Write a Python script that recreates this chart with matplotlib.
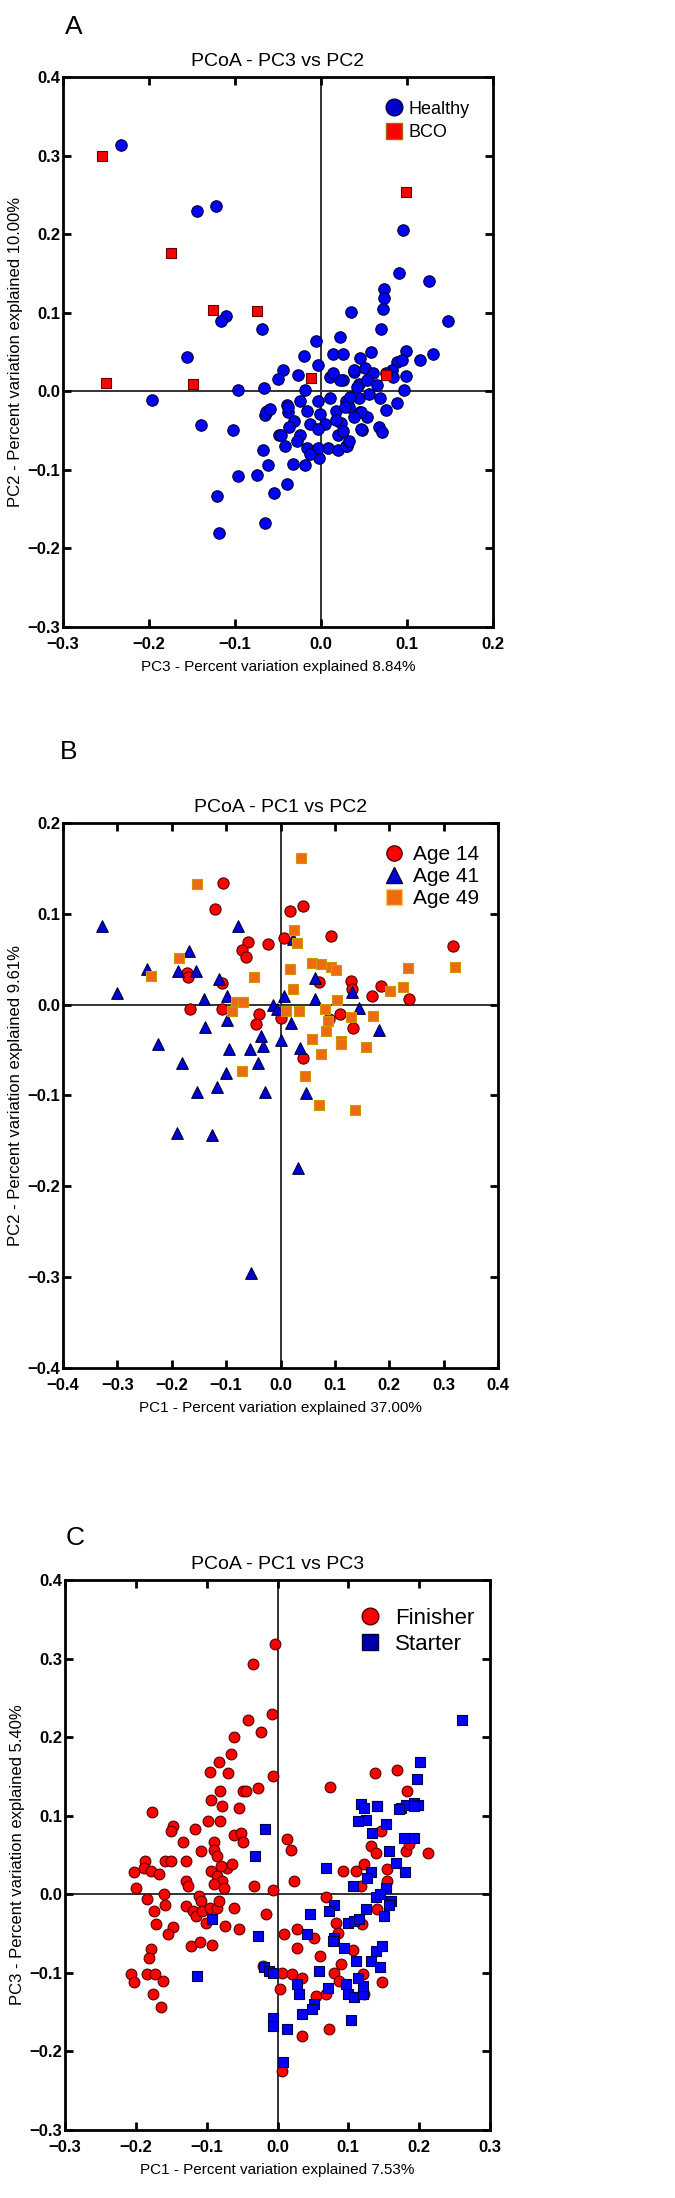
import numpy as np
import matplotlib.pyplot as plt
from matplotlib.lines import Line2D

plt.rcParams['font.family'] = ['Liberation Sans', 'DejaVu Sans']

# ---- panel A : PC3 vs PC2 ----
a_healthy_x = [-0.233, -0.144, -0.122, 0.095, 0.091, 0.125, 0.073, 0.073, 0.072, 0.035, 0.148, -0.111, -0.116, -0.069, 0.070,
               -0.006, 0.022, -0.156, -0.020, 0.014, 0.025, 0.058, 0.099, 0.115, 0.130, 0.045, 0.088, 0.094, -0.044, -0.050,
               -0.027, -0.003, 0.099, 0.097, -0.096, -0.066, -0.196, -0.139, -0.102, -0.063, -0.065, -0.040, -0.038, 0.088,
               0.076, 0.045, 0.054, 0.048, 0.068, 0.071, -0.049, -0.042, -0.068, 0.008, 0.020, 0.030, -0.002, -0.032, -0.019,
               -0.062, -0.074, -0.096, -0.040, -0.055, -0.121, -0.065, -0.119,
               0.010, 0.026, 0.038, 0.044, -0.019, -0.025, -0.004, 0.011, 0.029, 0.044, -0.038, -0.016, -0.001, 0.017, 0.032,
               0.046, -0.031, -0.013, 0.005, 0.023, -0.047, -0.037, -0.025, -0.004, 0.020, 0.047, -0.028, -0.016, -0.004,
               0.029, -0.013, -0.064, -0.059,
               0.038, 0.051, 0.061, 0.053, 0.065, 0.042, 0.056, 0.034, 0.069, 0.082, 0.084, 0.076, 0.022, 0.014, 0.028,
               0.018, 0.038, 0.026, 0.032]
a_healthy_y = [0.313, 0.229, 0.236, 0.205, 0.150, 0.140, 0.130, 0.119, 0.105, 0.101, 0.089, 0.096, 0.089, 0.079, 0.079,
               0.064, 0.069, 0.044, 0.045, 0.047, 0.047, 0.050, 0.051, 0.040, 0.047, 0.042, 0.037, 0.040, 0.027, 0.015,
               0.021, 0.033, 0.020, 0.002, 0.001, 0.004, -0.011, -0.043, -0.049, -0.025, -0.030, -0.018, -0.026, -0.015,
               -0.024, -0.026, -0.033, -0.049, -0.046, -0.052, -0.055, -0.069, -0.075, -0.072, -0.075, -0.070, -0.085,
               -0.092, -0.094, -0.094, -0.106, -0.108, -0.118, -0.129, -0.133, -0.168, -0.180,
               0.018, 0.014, 0.024, 0.009, 0.001, -0.012, -0.012, -0.008, -0.012, -0.008, -0.020, -0.025, -0.029, -0.025,
               -0.020, -0.027, -0.038, -0.042, -0.042, -0.040, -0.055, -0.046, -0.055, -0.048, -0.055, -0.048, -0.063,
               -0.072, -0.072, -0.069, -0.080, -0.027, -0.023,
               0.027, 0.029, 0.023, 0.014, 0.008, 0.006, -0.003, -0.007, -0.009, 0.027, 0.018, 0.023, 0.014, 0.023, -0.020,
               -0.037, -0.033, -0.050, -0.063]
a_bco_x = [-0.255, -0.175, -0.126, -0.074, 0.099, -0.250, -0.149, -0.012, 0.075]
a_bco_y = [0.300, 0.176, 0.104, 0.102, 0.254, 0.010, 0.009, 0.017, 0.021]

# ---- panel B : PC1 vs PC2 ----
b_age14_x = [-0.106, -0.121, 0.017, 0.042, 0.092, -0.060, -0.023, 0.007, -0.071, -0.063, 0.318, -0.172, -0.171, -0.107,
             0.071, 0.130, 0.132, 0.185, 0.169, 0.237, -0.167, -0.107, -0.039, -0.045, 0.000, 0.090, 0.109, 0.134, 0.042]
b_age14_y = [0.134, 0.105, 0.103, 0.109, 0.076, 0.069, 0.067, 0.073, 0.060, 0.052, 0.065, 0.035, 0.031, 0.024,
             0.025, 0.026, 0.017, 0.021, 0.009, 0.006, -0.005, -0.005, -0.010, -0.021, -0.015, -0.016, -0.010, -0.026, -0.059]
b_age41_x = [-0.329, -0.079, 0.023, -0.169, -0.245, -0.189, -0.156, -0.113, 0.064, -0.301, 0.132, -0.140, -0.098, 0.006,
             0.064, -0.013, -0.007, 0.144, -0.098, -0.138, 0.020, 0.182, -0.226, -0.181, -0.094, -0.057, -0.033, -0.042,
             0.000, 0.035, -0.100, -0.153, -0.117, -0.029, 0.047, -0.191, -0.126, 0.032, -0.054, -0.036]
b_age41_y = [0.087, 0.087, 0.072, 0.059, 0.039, 0.037, 0.037, 0.028, 0.029, 0.013, 0.014, 0.006, 0.010, 0.010,
             0.006, 0.000, -0.005, -0.004, -0.017, -0.025, -0.020, -0.028, -0.043, -0.064, -0.049, -0.049, -0.046, -0.064,
             -0.039, -0.048, -0.075, -0.096, -0.091, -0.096, -0.097, -0.141, -0.143, -0.180, -0.295, -0.034]
b_age49_x = [0.037, -0.154, 0.025, 0.031, -0.186, -0.238, -0.048, 0.018, 0.058, 0.075, 0.093, 0.102, 0.234, 0.320,
             0.023, 0.201, 0.226, -0.082, -0.069, -0.089, 0.010, 0.034, 0.104, 0.081, 0.087, 0.130, 0.171, 0.083, 0.058,
             0.112, 0.112, 0.158, 0.074, -0.071, 0.045, 0.071, 0.137]
b_age49_y = [0.161, 0.133, 0.082, 0.068, 0.051, 0.032, 0.030, 0.039, 0.046, 0.045, 0.042, 0.038, 0.040, 0.042,
             0.017, 0.015, 0.019, 0.003, 0.003, -0.007, -0.007, -0.007, 0.005, -0.005, -0.018, -0.014, -0.012, -0.029,
             -0.038, -0.040, -0.043, -0.047, -0.054, -0.073, -0.078, -0.111, -0.116]

# ---- panel C : PC1 vs PC3 ----
c_fin_x = [-0.004, -0.034, -0.008, -0.041, -0.024, -0.062, -0.066, -0.082, -0.096, -0.070, -0.007, 0.074, 0.137, 0.169,
           0.183, -0.027, -0.049, -0.045, -0.081, -0.094, -0.078, -0.054, -0.177,
           -0.148, -0.150, -0.116, -0.098, -0.081, -0.061, -0.052, -0.049, -0.134, -0.108, -0.089, -0.089, -0.085, -0.129,
           -0.159, -0.151, -0.187, -0.188, -0.179, -0.167, -0.202, -0.200, -0.094, -0.085, -0.078, -0.089, -0.071, -0.064,
           -0.080, -0.075, -0.129, -0.127, -0.033, -0.007, 0.023, 0.013, 0.019, -0.184, -0.160, -0.159, -0.174, -0.172,
           -0.147, -0.155, -0.111, -0.108, -0.129, -0.120, -0.115, -0.106, -0.096, -0.085, -0.082, -0.101, -0.074, -0.062,
           -0.054, -0.016, -0.122, -0.109, -0.093, -0.179, -0.181, -0.207, -0.203, -0.184, -0.173, -0.161, -0.176, -0.165,
           -0.021, 0.009, 0.027, 0.027, 0.052, 0.060, 0.068, 0.006, 0.004, 0.021, 0.035, 0.054, 0.068, 0.073, 0.035,
           0.007, 0.082, 0.085, 0.080, 0.089, 0.087, 0.107, 0.119, 0.141, 0.148, 0.122, 0.120, 0.093, 0.111, 0.122,
           0.118, 0.132, 0.139, 0.146, 0.155, 0.155, 0.181, 0.186, 0.212]
c_fin_y = [0.319, 0.293, 0.230, 0.222, 0.207, 0.200, 0.179, 0.168, 0.156, 0.154, 0.150, 0.136, 0.155, 0.158,
           0.132, 0.135, 0.131, 0.132, 0.131, 0.120, 0.112, 0.110, 0.105,
           0.087, 0.081, 0.083, 0.093, 0.093, 0.076, 0.078, 0.066, 0.066, 0.055, 0.066, 0.057, 0.049, 0.042,
           0.042, 0.042, 0.043, 0.034, 0.030, 0.026, 0.028, 0.008, 0.030, 0.023, 0.017, 0.013, 0.034, 0.038,
           0.036, 0.008, 0.017, 0.011, 0.011, 0.006, 0.017, 0.070, 0.057, -0.006, 0.000, -0.013, -0.021, -0.038,
           -0.042, -0.051, -0.002, -0.008, -0.015, -0.021, -0.027, -0.021, -0.017, -0.017, -0.008, -0.036, -0.040, -0.017,
           -0.044, -0.025, -0.066, -0.061, -0.064, -0.070, -0.081, -0.102, -0.112, -0.102, -0.102, -0.110, -0.127, -0.144,
           -0.091, -0.051, -0.044, -0.068, -0.055, -0.078, -0.004, -0.100, -0.121, -0.102, -0.106, -0.129, -0.127, -0.172,
           -0.180, -0.225, -0.036, -0.049, -0.100, -0.089, -0.110, -0.071, -0.038, -0.019, -0.112, -0.127, -0.102, 0.030,
           0.030, 0.038, 0.011, 0.061, 0.053, 0.081, 0.032, 0.017, 0.055, 0.064, 0.053]
c_sta_x = [0.260, 0.201, 0.197, 0.118, 0.140, 0.174, 0.181, 0.192, 0.198, 0.122, 0.125, 0.113, 0.141, 0.153, 0.134,
           0.172, 0.193, 0.179, 0.193, -0.017, -0.032, 0.068, 0.158, 0.167, 0.180, 0.132, 0.127, 0.106, 0.153, 0.139,
           0.144, 0.160, 0.158, 0.151, 0.125, 0.080, 0.073, 0.046, 0.099, 0.108, 0.115, 0.041, 0.080, 0.078, 0.094,
           0.111, 0.132, 0.139, 0.148, 0.144, -0.092, -0.028, -0.113, -0.019, -0.012, -0.007, 0.059, 0.028, 0.030,
           0.071, 0.052, 0.049, 0.096, 0.099, 0.108, 0.120, 0.120, 0.113, 0.035, -0.007, -0.007, 0.013, 0.104, 0.008]
c_sta_y = [0.222, 0.168, 0.147, 0.115, 0.112, 0.110, 0.114, 0.116, 0.114, 0.110, 0.095, 0.093, 0.112, 0.089, 0.078,
           0.108, 0.112, 0.072, 0.072, 0.083, 0.049, 0.034, 0.055, 0.040, 0.028, 0.028, 0.021, 0.011, 0.008, -0.004,
           0.000, -0.008, -0.013, -0.028, -0.019, -0.013, -0.021, -0.025, -0.036, -0.034, -0.032, -0.051, -0.055, -0.059,
           -0.068, -0.085, -0.085, -0.072, -0.066, -0.093, -0.032, -0.053, -0.104, -0.093, -0.097, -0.100, -0.097, -0.114,
           -0.127, -0.119, -0.140, -0.146, -0.114, -0.127, -0.131, -0.127, -0.117, -0.106, -0.152, -0.157, -0.167, -0.172,
           -0.160, -0.214]

W, H = 675, 2198
fig = plt.figure(figsize=(W / 100, H / 100), dpi=100)


def make_ax(x0, y0, x1, y1):
    return fig.add_axes([x0 / W, 1 - y1 / H, (x1 - x0) / W, (y1 - y0) / H])


def style(ax, xlim, ylim, title, xlabel, ylabel):
    ax.set_xlim(xlim)
    ax.set_ylim(ylim)
    ax.set_xticks(np.round(np.arange(xlim[0], xlim[1] + 0.001, 0.1), 1))
    ax.set_yticks(np.round(np.arange(ylim[0], ylim[1] + 0.001, 0.1), 1))
    ax.axhline(0, color='#333333', lw=1.4, zorder=1)
    ax.axvline(0, color='#333333', lw=1.4, zorder=1)
    ax.tick_params(direction='in', top=True, right=True, length=6, width=2, labelsize=12)
    ax.tick_params(axis='x', pad=7)
    ax.tick_params(axis='y', pad=2)
    for lab in ax.get_xticklabels() + ax.get_yticklabels():
        lab.set_fontweight('bold')
    for s in ax.spines.values():
        s.set_linewidth(2)
    ax.set_title(title, fontsize=14, pad=8)
    ax.set_xlabel(xlabel, fontsize=11, labelpad=6)
    ax.set_ylabel(ylabel, fontsize=12, labelpad=3)


# panel A
ax = make_ax(63, 77, 493, 627)
ax.scatter(a_healthy_x, a_healthy_y, s=68, c='#0000ff', edgecolors='#000033', linewidths=0.8, zorder=3)
ax.scatter(a_bco_x, a_bco_y, s=62, marker='s', c='#ff0000', edgecolors='#660000', linewidths=0.8, zorder=3)
style(ax, (-0.3, 0.2), (-0.3, 0.4), 'PCoA - PC3 vs PC2',
      'PC3 - Percent variation explained 8.84%', 'PC2 - Percent variation explained 10.00%')
hA = [Line2D([], [], ls='', marker='o', ms=12, mfc='#0000cc', mec='#000033', label='Healthy'),
      Line2D([], [], ls='', marker='s', ms=11, mfc='#ff0000', mec='#aa6600', label='BCO')]
ax.legend(handles=hA, loc='upper left', bbox_to_anchor=(0.71, 0.97), frameon=False, fontsize=13,
          handletextpad=-0.2, labelspacing=0.35, borderaxespad=0)
fig.text(65 / W, 1 - 27 / H, 'A', fontsize=19, ha='left', va='center')

# panel B
ax = make_ax(63, 823, 498, 1368)
ax.scatter(b_age14_x, b_age14_y, s=65, c='#ff0000', edgecolors='#550000', linewidths=0.8, zorder=3)
ax.scatter(b_age41_x, b_age41_y, s=70, marker='^', c='#0000dd', edgecolors='#000033', linewidths=0.8, zorder=3)
ax.scatter(b_age49_x, b_age49_y, s=58, marker='s', c='#ee6a10', edgecolors='#cc9900', linewidths=0.8, zorder=3)
style(ax, (-0.4, 0.4), (-0.4, 0.2), 'PCoA - PC1 vs PC2',
      'PC1 - Percent variation explained 37.00%', 'PC2 - Percent variation explained 9.61%')
hB = [Line2D([], [], ls='', marker='o', ms=11, mfc='#ff0000', mec='#550000', label='Age 14'),
      Line2D([], [], ls='', marker='^', ms=11, mfc='#0000dd', mec='#000033', label='Age 41'),
      Line2D([], [], ls='', marker='s', ms=11, mfc='#ee6a10', mec='#ffcc66', label='Age 49')]
ax.legend(handles=hB, loc='upper left', bbox_to_anchor=(0.695, 0.975), frameon=False, fontsize=15,
          handletextpad=-0.1, labelspacing=0.15, borderaxespad=0)
fig.text(60 / W, 1 - 752 / H, 'B', fontsize=19, ha='left', va='center')

# panel C
ax = make_ax(65, 1580, 490, 2130)
ax.scatter(c_fin_x, c_fin_y, s=60, c='#ff0000', edgecolors='#550000', linewidths=0.8, zorder=3)
ax.scatter(c_sta_x, c_sta_y, s=56, marker='s', c='#0000ff', edgecolors='#000044', linewidths=0.8, zorder=3)
style(ax, (-0.3, 0.3), (-0.3, 0.4), 'PCoA - PC1 vs PC3',
      'PC1 - Percent variation explained 7.53%', 'PC3 - Percent variation explained 5.40%')
hC = [Line2D([], [], ls='', marker='o', ms=12, mfc='#ff0000', mec='#550000', label='Finisher'),
      Line2D([], [], ls='', marker='s', ms=12, mfc='#0000aa', mec='#000033', label='Starter')]
ax.legend(handles=hC, loc='upper left', bbox_to_anchor=(0.645, 0.965), frameon=False, fontsize=16,
          handletextpad=0.1, labelspacing=0.2, borderaxespad=0)
fig.text(66 / W, 1 - 1538 / H, 'C', fontsize=19, ha='left', va='center')

fig.savefig('out.png', dpi=100)
